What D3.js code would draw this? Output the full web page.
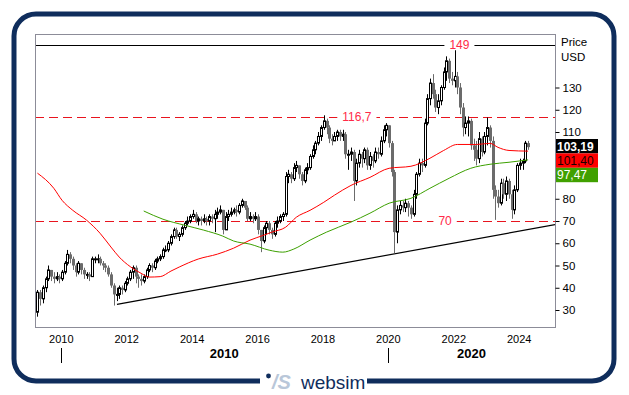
<!DOCTYPE html>
<html>
<head>
<meta charset="utf-8">
<script src="https://cdn.jsdelivr.net/npm/d3@7"></script>
<style>
  body { margin: 0; background: #fff; }
  svg text { font-family: "Liberation Sans", Arial, sans-serif; }
</style>
</head>
<body>
<svg id="chart" width="629" height="395"></svg>
<script>
// monthly candles, Apr 2009 .. Apr 2024 (open = previous close)
var firstMonth = "2009-04", firstOpen = 29;
var closes = [
  38, 35, 40, 44, 48, 45, 44, 45, 44,                         // 2009
  47, 51, 55, 53, 50, 47, 51, 48, 46, 46, 45, 53,             // 2010
  53, 53, 51, 50, 49, 46, 41, 37, 37, 40, 39, 42,             // 2011
  44, 47, 49, 45, 44, 43, 45, 48, 50, 49, 52, 53,             // 2012
  54, 57, 57, 60, 63, 66, 63, 64, 67, 69, 70, 72,             // 2013
  73, 70, 71, 70, 71, 70, 72, 71, 73, 74, 75, 66,             // 2014
  72, 73, 74, 75, 74, 77, 79, 76, 71, 72, 71, 72,             // 2015
  66, 61, 67, 69, 66, 64, 69, 70, 72, 73, 90, 91,             // 2016
  89, 94, 95, 91, 88, 93, 94, 99, 102, 105, 108, 112,         // 2017
  115, 112, 107, 106, 108, 110, 108, 109, 100, 100, 101, 88,  // 2018
  96, 100, 98, 102, 95, 99, 97, 101, 100, 106, 111, 113,      // 2019
  105, 92, 65, 75, 77, 76, 78, 76, 73, 82, 91, 96,            // 2020
  95, 114, 125, 132, 127, 121, 124, 130, 137, 142, 134, 133,  // 2021
  135, 130, 121, 112, 114, 115, 104, 102, 98, 107, 101, 108,  // 2022
  112, 106, 84, 81, 78, 87, 82, 88, 82, 75, 84, 95,           // 2023
  96, 97, 105, 103.19                                         // 2024
];
var highs = [
  39, 39, 41, 45, 50, 48, 47, 47, 46,
  48, 52, 57, 56, 54, 51, 52, 51, 49, 47, 47, 54,
  54, 55, 54, 52, 51, 50, 47, 42, 40, 41, 41, 43,
  45, 48, 50, 50, 46, 46, 46, 49, 51, 51, 53, 54,
  55, 58, 59, 61, 64, 67, 67, 65, 68, 70, 72, 73,
  75, 74, 72, 72, 73, 72, 73, 73, 75, 76, 77, 75,
  74, 75, 76, 76, 77, 78, 80, 79, 77, 74, 73, 74,
  73, 66, 68, 70, 70, 67, 70, 72, 73, 74, 92, 93,
  92, 96, 97, 95, 92, 94, 96, 100, 104, 106, 110, 113,
  117.5, 116, 113, 109, 110, 111, 111, 111, 110, 102, 103, 102,
  98, 102, 101, 103, 103, 101, 100, 103, 103, 108, 113, 114,
  113, 106, 93, 77, 79, 79, 80, 79, 77, 84, 92, 98,
  98, 116, 127, 134, 136, 129, 127, 131, 139, 144, 143, 137,
  149, 137, 132, 123, 117, 117, 116, 107, 106, 110, 108, 110,
  116.5, 113, 108, 86, 84, 89, 89, 90, 89, 84, 86, 96,
  98, 98, 106, 106
];
var lows = [
  27, 32, 33, 38, 43, 43, 42, 43, 42,
  43, 46, 50, 51, 48, 45, 46, 46, 44, 44, 43, 45,
  51, 51, 50, 48, 47, 45, 40, 32, 34, 35, 37, 38,
  41, 43, 44, 42, 40, 41, 42, 44, 47, 47, 48, 51,
  52, 53, 56, 56, 59, 62, 62, 61, 63, 66, 68, 69,
  71, 69, 68, 68, 69, 68, 68, 69, 65, 71, 73, 64,
  66, 70, 72, 73, 72, 73, 76, 75, 70, 70, 69, 70,
  64, 56, 60, 64, 64, 62, 63, 67, 69, 70, 72, 87,
  87, 88, 92, 89, 86, 87, 91, 93, 98, 100, 104, 106,
  111, 109, 105, 104, 106, 106, 106, 106, 98, 93, 97, 79,
  86, 94, 94, 96, 93, 93, 94, 96, 98, 99, 105, 108,
  103, 90, 55.5, 60, 73, 74, 74, 72, 71, 72, 80, 90,
  92, 94, 113, 122, 125, 119, 118, 122, 129, 133, 132, 131,
  130, 127, 118, 108, 109, 108, 102, 97, 95, 96, 99, 100,
  104, 103, 80, 70.5, 76, 77, 80, 79, 80, 71, 73, 83,
  93, 93, 96, 102
];

// moving averages
var redDates = ["2009-04","2009-10","2010-01","2010-05","2010-10","2011-03","2011-07","2011-10",
  "2012-02","2012-06","2012-09","2013-01","2013-05","2013-08","2014-03","2014-10","2015-04",
  "2015-10","2016-03","2016-06","2016-11","2017-03","2017-08","2018-01","2018-05","2018-11",
  "2019-06","2020-01","2020-09","2021-04","2021-09","2022-02","2022-09","2023-02","2023-05",
  "2023-09","2024-04"];
var redValues = [91.5, 84.7, 79.3, 74.8, 70.4, 64.5, 58.3, 53.8, 49.5, 46.5, 44.8, 45, 47.5, 49.3,
  52.9, 55.1, 57.8, 61.4, 63.6, 65, 67.2, 71.7, 74.8, 78.4, 81.6, 86, 89.6, 93.7, 94.6, 98.2,
  101.7, 104.4, 104.4, 104.9, 103.1, 101.7, 101.40];
var greenDates = ["2012-07","2013-02","2013-10","2014-05","2014-12","2015-04","2015-10","2016-05",
  "2016-10","2017-02","2017-08","2018-02","2018-11","2019-06","2020-01","2020-09","2021-04",
  "2021-11","2022-07","2023-02","2023-09","2024-04"];
var greenValues = [74.5, 70.8, 68.1, 65.9, 63.2, 61, 59.6, 56.9, 56, 57.4, 61.4, 65, 69.5, 73.5,
  78, 80.2, 84.7, 89.2, 93.7, 95.5, 96.4, 97.47];

var trendDates = ["2011-09-20", "2025-02-10"];
var trendValues = [32.5, 68.4];

var levelValues = [149, 116.7, 70];
var levelLabels = ["149", "116,7", "70"];

// 90 and 100 sit under the value tags in the original
var yTicks = [30, 40, 50, 60, 70, 80, 110, 120, 130];
var xTicks = [2010, 2012, 2014, 2016, 2018, 2020, 2022, 2024];
var decades = [2010, 2020];

var svg = d3.select('#chart'),
    plot = {l: 35, r: 555, t: 34, b: 327},
    navy = '#0f2d5c',
    parseM = d3.timeParse('%Y-%m'),
    parseD = d3.timeParse('%Y-%m-%d'),
    locale = d3.formatLocale({decimal: ',', thousands: '.', grouping: [3], currency: ['', '']}),
    fmt = locale.format('.2f');

function mid(s) {
  var d = parseM(s);
  return new Date(d.getFullYear(), d.getMonth(), 15);
}

var x = d3.scaleTime()
  .domain([new Date(2010, 0, 1), new Date(2024, 0, 1)])
  .range([60.8, 518.7]);
var y = d3.scaleLinear().domain([30, 130]).range([310, 87.5]);

var start = mid(firstMonth);
var candles = closes.map(function (c, i) {
  return {
    date: d3.timeMonth.offset(start, i),
    open: i ? closes[i - 1] : firstOpen,
    close: c, high: highs[i], low: lows[i]
  };
});

// frame
svg.append('rect')
  .attr('x', 14).attr('y', 14).attr('width', 600).attr('height', 367)
  .attr('rx', 22).attr('fill', 'none')
  .attr('stroke', navy).attr('stroke-width', 5);

svg.append('defs').append('clipPath').attr('id', 'clip')
  .append('rect').attr('x', plot.l).attr('y', plot.t)
  .attr('width', plot.r - plot.l).attr('height', plot.b - plot.t);

var g = svg.append('g').attr('clip-path', 'url(#clip)');

// levels
levelValues.forEach(function (v, i) {
  var yy = Math.round(y(v)) + 0.5;
  g.append('line')
    .attr('x1', plot.l).attr('x2', plot.r).attr('y1', yy).attr('y2', yy)
    .attr('stroke', i === 0 ? '#000' : '#e8141e')
    .attr('stroke-dasharray', i === 0 ? null : '9,5');
});

// trend line
g.append('line')
  .attr('x1', x(parseD(trendDates[0]))).attr('y1', y(trendValues[0]))
  .attr('x2', x(parseD(trendDates[1]))).attr('y2', y(trendValues[1]))
  .attr('stroke', '#000').attr('stroke-width', 1.2);

// candles
var cg = g.selectAll('.candle').data(candles).enter().append('g').attr('class', 'candle');
cg.append('line')
  .attr('x1', function (d) { return Math.round(x(d.date)) + 0.5; })
  .attr('x2', function (d) { return Math.round(x(d.date)) + 0.5; })
  .attr('y1', function (d) { return y(d.high); })
  .attr('y2', function (d) { return y(d.low); })
  .attr('stroke', function (d) { return d.close >= d.open ? '#000' : '#6b6b6b'; });
cg.append('rect')
  .attr('x', function (d) { return Math.round(x(d.date)) - (d.close >= d.open ? 0.5 : 1); })
  .attr('y', function (d) { return Math.min(y(d.open), y(d.close)); })
  .attr('width', function (d) { return d.close >= d.open ? 2 : 3; })
  .attr('height', function (d) { return Math.max(1, Math.abs(y(d.open) - y(d.close))); })
  .attr('fill', function (d) { return d.close >= d.open ? '#fff' : '#6b6b6b'; })
  .attr('stroke', function (d) { return d.close >= d.open ? '#000' : 'none'; });

// moving averages
var ma = d3.line()
  .x(function (d) { return x(d[0]); })
  .y(function (d) { return y(d[1]); })
  .curve(d3.curveMonotoneX);
g.append('path')
  .attr('d', ma(redDates.map(function (s, i) { return [mid(s), redValues[i]]; })))
  .attr('fill', 'none').attr('stroke', '#ff0000');
g.append('path')
  .attr('d', ma(greenDates.map(function (s, i) { return [mid(s), greenValues[i]]; })))
  .attr('fill', 'none').attr('stroke', '#3ca000');

// level labels
var labelAt = [parseD('2022-03-10'), parseD('2019-01-20'), parseD('2021-10-01')];
levelLabels.forEach(function (t, i) {
  var lx = x(labelAt[i]), ly = y(levelValues[i]);
  var txt = svg.append('text')
    .attr('x', lx).attr('y', ly + 4)
    .attr('text-anchor', 'middle')
    .attr('font-size', 12).attr('fill', '#ff2a48')
    .text(t);
  var w = txt.node().getComputedTextLength();
  svg.insert('rect', function () { return txt.node(); })
    .attr('x', lx - w / 2 - 5).attr('y', ly - 5)
    .attr('width', w + 10).attr('height', 10).attr('fill', '#fff');
});

// plot border
svg.append('rect')
  .attr('x', plot.l + 0.5).attr('y', plot.t + 0.5)
  .attr('width', plot.r - plot.l).attr('height', plot.b - plot.t)
  .attr('fill', 'none').attr('stroke', '#8c8c98');

// y axis
var ya = svg.append('g').attr('transform', 'translate(' + (plot.r + 0.5) + ',0)')
  .call(d3.axisRight(y).tickValues(yTicks).tickSize(4).tickPadding(3));
ya.select('.domain').remove();
ya.selectAll('text').attr('font-size', 11.5).attr('font-family', '"Liberation Sans", Arial, sans-serif').attr('fill', '#000');
ya.selectAll('line').attr('stroke', '#000');

svg.append('text').attr('x', 561).attr('y', 46).attr('font-size', 11.5).text('Price');
svg.append('text').attr('x', 561).attr('y', 61).attr('font-size', 11.5).text('USD');

// last value tags
var tags = [
  {v: closes[closes.length - 1], bg: '#000', fg: '#fff', bold: true},
  {v: redValues[redValues.length - 1], bg: '#ff0000', fg: '#1a0000', bold: false},
  {v: greenValues[greenValues.length - 1], bg: '#40a000', fg: '#fff', bold: false}
];
tags.forEach(function (t, i) {
  var ty = 139 + i * 14.4;
  svg.append('rect').attr('x', plot.r + 1).attr('y', ty)
    .attr('width', 42).attr('height', 14.4).attr('fill', t.bg);
  svg.append('text').attr('x', plot.r + 2).attr('y', ty + 11.5)
    .attr('font-size', 12).attr('font-weight', t.bold ? 'bold' : 'normal')
    .attr('fill', t.fg).text(fmt(t.v));
});

// x axis
var xa = svg.append('g').attr('transform', 'translate(0,' + plot.b + ')')
  .call(d3.axisBottom(x)
    .tickValues(xTicks.map(function (yr) { return new Date(yr, 0, 1); }))
    .tickFormat(d3.timeFormat('%Y')).tickSize(0).tickPadding(8));
xa.select('.domain').remove();
xa.selectAll('text').attr('font-size', 11).attr('font-family', '"Liberation Sans", Arial, sans-serif').attr('fill', '#000');

decades.forEach(function (yr, i) {
  var x0 = x(new Date(yr, 0, 1)),
      x1 = i < decades.length - 1 ? x(new Date(decades[i + 1], 0, 1)) : plot.r;
  svg.append('line')
    .attr('x1', Math.round(x0) + 0.5).attr('x2', Math.round(x0) + 0.5)
    .attr('y1', 348).attr('y2', 363).attr('stroke', '#000');
  svg.append('text').attr('x', (x0 + x1) / 2).attr('y', 358)
    .attr('text-anchor', 'middle').attr('font-size', 13).attr('font-weight', 'bold')
    .text(yr);
});

// logo over the bottom of the frame
svg.append('rect').attr('x', 260).attr('y', 372).attr('width', 107).attr('height', 20).attr('fill', '#fff');
svg.append('circle').attr('cx', 268.5).attr('cy', 376).attr('r', 2.4).attr('fill', navy);
svg.append('text').attr('x', 272).attr('y', 389)
  .attr('font-size', 20).attr('font-style', 'italic').attr('font-weight', 'bold')
  .attr('fill', '#b9c7d9').text('/S');
svg.append('text').attr('x', 301).attr('y', 389)
  .attr('font-size', 19).attr('fill', navy).text('websim');
</script>
</body>
</html>
